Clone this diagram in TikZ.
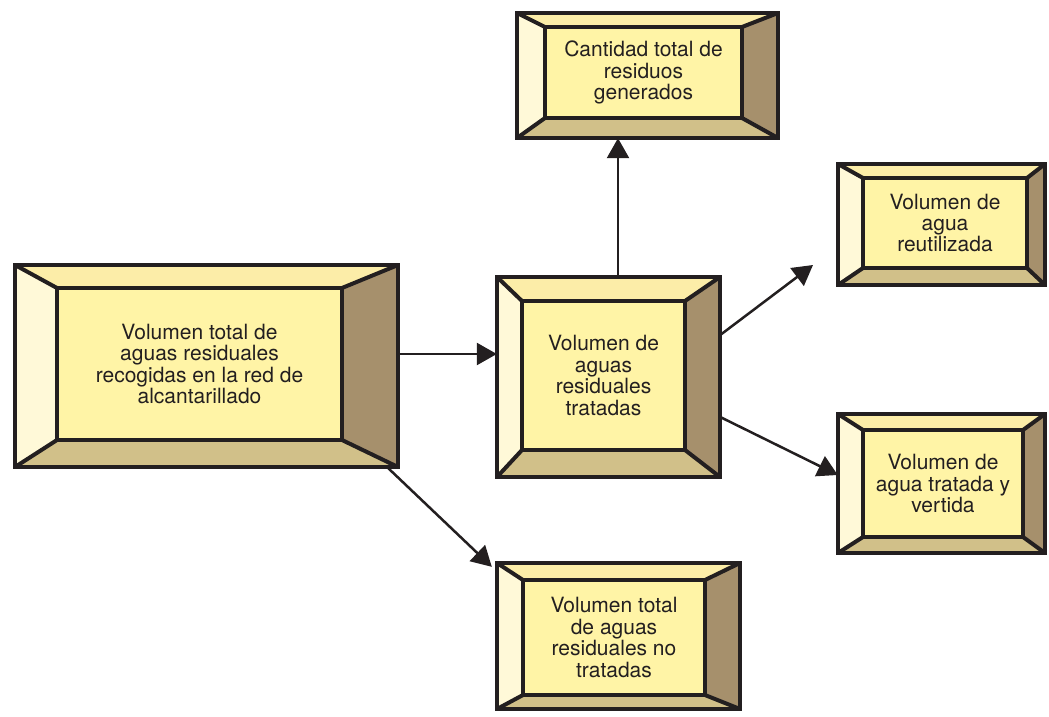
\documentclass[tikz,border=0pt]{standalone}
\usepackage{fontspec}
\setmainfont{TeX Gyre Heros}
\usetikzlibrary{arrows.meta,calc,fit}

\definecolor{ink}{HTML}{231F20}
\definecolor{facec}{HTML}{FFF4A6}
\definecolor{topc}{HTML}{FCEDA8}
\definecolor{leftc}{HTML}{FFF9D8}
\definecolor{rightc}{HTML}{A6906C}
\definecolor{bottomc}{HTML}{D1C089}

\tikzset{
  frameline/.style={draw=ink, line width=4.5pt, line join=miter},
  diagline/.style={draw=ink, line width=4pt},
  boxtext/.style={align=center, text=ink, inner sep=0pt,
    font=\fontsize{21}{21.5}\selectfont},
  flow/.style={draw=ink, line width=2.5pt, -{Triangle[length=20pt,width=22pt]}}
}

% bevelled box: name, outer corners, inner corners, text
\newcommand\bevelbox[6]{%
  \coordinate (#1-o1) at #2;
  \coordinate (#1-o2) at #3;
  \coordinate (#1-i1) at #4;
  \coordinate (#1-i2) at #5;
  \fill[topc] (#1-o1) -- (#1-o2 |- #1-o1) -- (#1-i2 |- #1-i1) -- (#1-i1) -- cycle;
  \fill[rightc] (#1-o2 |- #1-o1) -- (#1-o2) -- (#1-i2) -- (#1-i2 |- #1-i1) -- cycle;
  \fill[bottomc] (#1-o2) -- (#1-o1 |- #1-o2) -- (#1-i1 |- #1-i2) -- (#1-i2) -- cycle;
  \fill[leftc] (#1-o1 |- #1-o2) -- (#1-o1) -- (#1-i1) -- (#1-i1 |- #1-i2) -- cycle;
  \fill[facec] (#1-i1) rectangle (#1-i2);
  \draw[diagline] (#1-o1) -- (#1-i1)
    (#1-o2 |- #1-o1) -- (#1-i2 |- #1-i1)
    (#1-o2) -- (#1-i2)
    (#1-o1 |- #1-o2) -- (#1-i1 |- #1-i2);
  \draw[frameline] (#1-o1) rectangle (#1-o2);
  \draw[frameline] (#1-i1) rectangle (#1-i2);
  \node[inner sep=0pt, fit=(#1-o1)(#1-o2)] (#1) {};
  \node[boxtext] (#1-text) at ($(#1-i1)!0.5!(#1-i2)$) {#6};
}

\begin{document}
\begin{tikzpicture}[x=1pt, y=-1pt]
  \useasboundingbox (0,0) rectangle (1049,717);

  \bevelbox{A}{(15,265)}{(398,467)}{(57,288)}{(342,440)}
    {Volumen total de\\aguas residuales\\recogidas en la red de\\alcantarillado}
  \bevelbox{B}{(497,277)}{(720,477)}{(522,301)}{(685,450)}
    {Volumen de\\aguas\\residuales\\tratadas}
  \bevelbox{C}{(517,13)}{(778,138)}{(545,27)}{(742,118)}
    {Cantidad total de\\residuos\\generados}
  \bevelbox{D}{(838,164)}{(1045,285)}{(863,178)}{(1027,268)}
    {Volumen de\\agua\\reutilizada}
  \bevelbox{E}{(838,414)}{(1045,553)}{(863,430)}{(1023,537)}
    {Volumen de\\agua tratada y\\vertida}
  \bevelbox{F}{(497,563)}{(740,709)}{(523,580)}{(705,695)}
    {Volumen total\\de aguas\\residuales no\\tratadas}

  \coordinate (reuse-tip) at (813,265);

  \draw[flow] ([yshift=12pt]A.east) -- ([yshift=23pt]B.west);
  \draw[flow] ([xshift=9.5pt]B.north) -- ([xshift=9.5pt]B.north |- C.south);
  \draw[flow] ([yshift=42pt]B.east) -- (reuse-tip);
  \draw[flow] ([yshift=-40pt]B.east) -- ([yshift=8.5pt]E.west);
  \draw[flow] ([xshift=-11pt]A.south east) -- ([xshift=-5pt,yshift=-4pt]F.north west);
\end{tikzpicture}
\end{document}
